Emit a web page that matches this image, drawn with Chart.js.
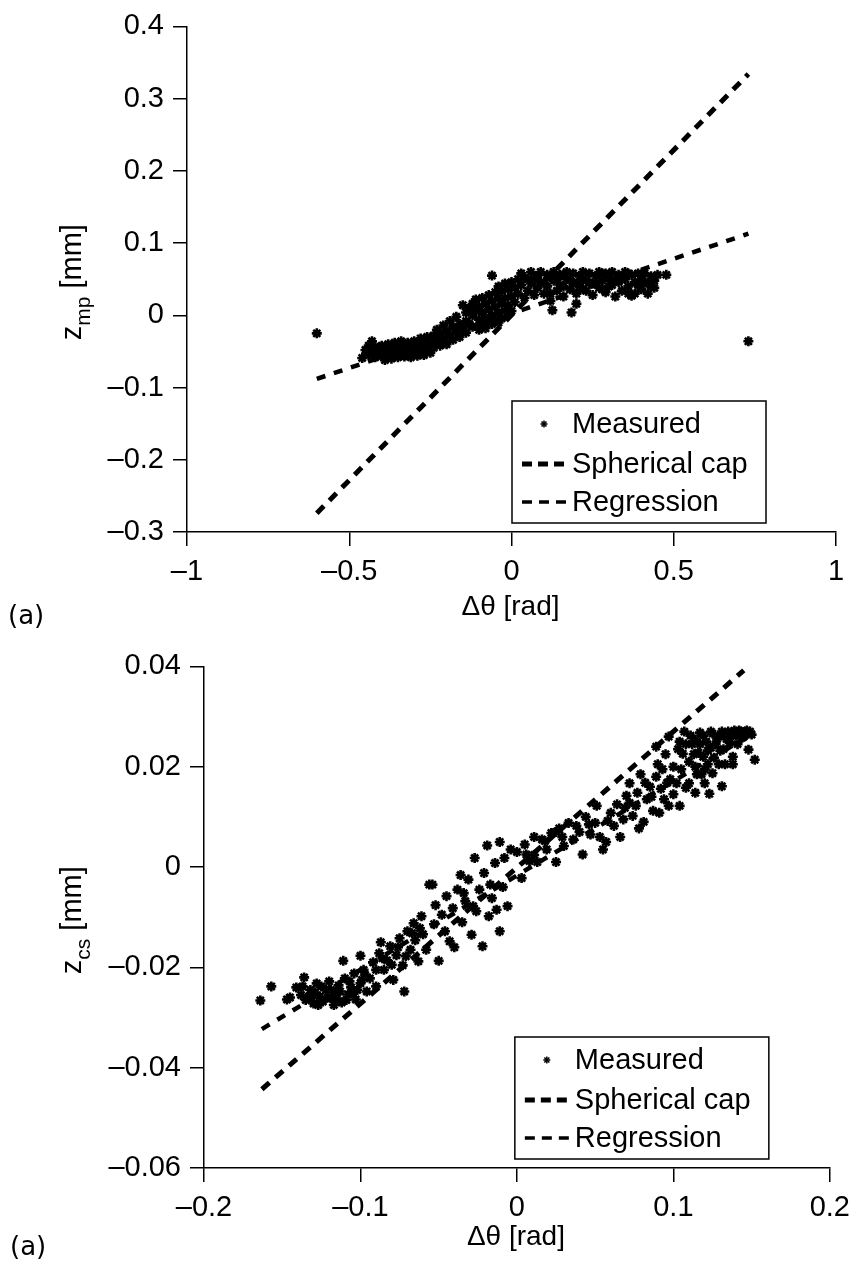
<!DOCTYPE html>
<html>
<head>
<meta charset="utf-8">
<script src="https://cdn.jsdelivr.net/npm/chart.js@4.4.1/dist/chart.umd.min.js"></script>
<style>
  body { margin: 0; background: #fff; width: 859px; height: 1271px; position: relative; overflow: hidden; }
  .panel { position: absolute; left: 0; }
  .tag { position: absolute; font-family: "DejaVu Sans", sans-serif; font-size: 26px; color: #000; }
</style>
</head>
<body>
<div class="panel" style="top:0"><canvas id="chartA" width="859" height="640"></canvas></div>
<div class="panel" style="top:640px"><canvas id="chartB" width="859" height="631"></canvas></div>
<div class="tag" style="left:8px;top:600px">(a)</div>
<div class="tag" style="left:10px;top:1231px">(a)</div>

<script>
// ---- panel 1 : z_mp vs delta theta ----
const xTicksA = [-1, -0.5, 0, 0.5, 1];
const xLabelsA = ["–1", "–0.5", "0", "0.5", "1"];
const yTicksA = [-0.3, -0.2, -0.1, 0, 0.1, 0.2, 0.3, 0.4];
const yLabelsA = ["–0.3", "–0.2", "–0.1", "0", "0.1", "0.2", "0.3", "0.4"];

const measuredA = [
  [-0.60,-0.025],[0.73,-0.036],[-0.43,-0.036],[-0.46,-0.059],[-0.15,0.014],[-0.06,0.055],
  [0.477,0.056],[0.126,0.007],[0.185,0.004],[0.37,0.027],
  [-0.45,-0.048],[-0.44,-0.055],[-0.44,-0.042],[-0.43,-0.05],[-0.42,-0.044],[-0.42,-0.058],
  [-0.41,-0.05],[-0.40,-0.042],[-0.40,-0.056],[-0.39,-0.048],[-0.39,-0.062],[-0.38,-0.04],
  [-0.38,-0.054],[-0.37,-0.046],[-0.37,-0.06],[-0.36,-0.038],[-0.36,-0.052],[-0.35,-0.045],
  [-0.35,-0.058],[-0.34,-0.05],[-0.34,-0.036],[-0.33,-0.044],[-0.33,-0.057],[-0.32,-0.05],
  [-0.32,-0.038],[-0.31,-0.045],[-0.31,-0.058],[-0.30,-0.052],[-0.30,-0.036],[-0.29,-0.044],
  [-0.29,-0.056],[-0.28,-0.05],[-0.28,-0.032],[-0.27,-0.042],[-0.27,-0.055],[-0.26,-0.047],
  [-0.26,-0.03],[-0.25,-0.038],[-0.25,-0.052],
  [-0.445,-0.05],[-0.435,-0.046],[-0.425,-0.052],[-0.415,-0.046],[-0.405,-0.05],[-0.395,-0.054],
  [-0.385,-0.046],[-0.375,-0.052],[-0.365,-0.046],[-0.355,-0.052],[-0.345,-0.042],[-0.335,-0.05],
  [-0.325,-0.045],[-0.315,-0.052],[-0.305,-0.046],[-0.295,-0.05],[-0.285,-0.042],[-0.275,-0.048],
  [-0.265,-0.04],
  [-0.24,-0.045],[-0.24,-0.028],[-0.23,-0.036],[-0.23,-0.02],[-0.22,-0.042],[-0.22,-0.026],
  [-0.21,-0.014],[-0.21,-0.033],[-0.20,-0.022],[-0.20,-0.04],[-0.19,-0.008],[-0.19,-0.028],
  [-0.18,-0.016],[-0.18,-0.034],[-0.17,-0.022],[-0.17,-0.002],[-0.16,-0.012],[-0.16,-0.03],
  [-0.15,-0.018],[-0.14,0.004],[-0.14,-0.008],[-0.14,-0.024],[-0.13,0.01],[-0.13,-0.012],
  [-0.12,0.016],[-0.12,0.0],[-0.12,-0.016],[-0.11,0.022],[-0.11,0.006],[-0.10,0.012],
  [-0.10,-0.006],[-0.09,0.024],[-0.09,0.004],[-0.08,0.016],[-0.08,-0.004],[-0.07,0.028],
  [-0.07,0.008],[-0.06,0.02],[-0.06,0.0],[-0.05,0.032],[-0.05,0.012],[-0.04,0.024],
  [-0.04,0.04],[-0.04,0.004],[-0.03,0.034],[-0.03,0.016],[-0.02,0.044],[-0.02,0.024],
  [-0.02,0.006],[-0.01,0.036],[-0.01,0.014],[0.0,0.046],[0.0,0.026],[0.0,0.006],
  [0.01,0.038],[0.01,0.018],[0.02,0.05],[0.02,0.03],
  [-0.10,-0.02],[-0.09,-0.014],[-0.08,-0.018],[-0.07,-0.01],[-0.06,-0.012],[-0.05,-0.006],
  [-0.04,-0.01],[-0.03,-0.004],
  [0.03,0.058],[0.03,0.042],[0.04,0.024],[0.05,0.05],[0.05,0.034],[0.06,0.06],
  [0.06,0.044],[0.07,0.028],[0.08,0.054],[0.08,0.038],[0.09,0.06],[0.09,0.046],
  [0.10,0.03],[0.11,0.056],[0.11,0.04],[0.12,0.02],[0.13,0.06],[0.13,0.048],
  [0.14,0.034],[0.15,0.056],[0.15,0.042],[0.16,0.026],[0.17,0.06],[0.17,0.05],
  [0.18,0.036],[0.19,0.058],[0.19,0.044],[0.20,0.03],[0.20,0.016],[0.21,0.054],
  [0.21,0.04],[0.22,0.06],[0.23,0.048],[0.23,0.034],[0.24,0.058],[0.25,0.044],
  [0.25,0.028],[0.26,0.054],[0.27,0.06],[0.27,0.038],[0.28,0.048],[0.29,0.058],
  [0.29,0.032],[0.30,0.052],[0.31,0.06],[0.31,0.042],[0.32,0.026],[0.33,0.056],
  [0.33,0.046],[0.34,0.034],[0.35,0.06],[0.35,0.05],[0.36,0.04],[0.37,0.056],
  [0.38,0.046],[0.38,0.03],[0.39,0.058],[0.40,0.05],[0.40,0.036],[0.41,0.058],
  [0.42,0.044],[0.43,0.054],[0.44,0.048],[0.45,0.056],[0.44,0.038],
  [0.04,0.052],[0.07,0.05],[0.10,0.045],[0.12,0.055],[0.14,0.05],[0.16,0.056],
  [0.18,0.05],[0.20,0.044],[0.22,0.05],[0.24,0.045],[0.26,0.044],[0.28,0.058],
  [0.30,0.04],[0.32,0.05],[0.34,0.05],[0.36,0.058],[0.39,0.042],[0.41,0.046],
  [0.43,0.04],[0.12,0.03],[0.16,0.04],[0.22,0.036],[0.28,0.036],[0.36,0.03],[0.42,0.03]
];
const sphericalCapA = [[-0.60,-0.274],[0.73,0.334]];
const regressionA = [[-0.60,-0.088],[0.73,0.113]];

// ---- panel 2 : z_cs vs delta theta ----
const xTicksB = [-0.2, -0.1, 0, 0.1, 0.2];
const xLabelsB = ["–0.2", "–0.1", "0", "0.1", "0.2"];
const yTicksB = [-0.06, -0.04, -0.02, 0, 0.02, 0.04];
const yLabelsB = ["–0.06", "–0.04", "–0.02", "0", "0.02", "0.04"];

const measuredB = [
  [-0.164,-0.0266],[-0.157,-0.0238],[-0.147,-0.0264],[-0.141,-0.024],[-0.136,-0.022],[-0.145,-0.026],
  [-0.138,-0.0255],[-0.135,-0.0265],[-0.132,-0.0245],[-0.13,-0.0272],[-0.128,-0.0232],[-0.126,-0.0258],
  [-0.124,-0.0268],[-0.122,-0.0244],[-0.12,-0.0228],[-0.118,-0.0262],[-0.116,-0.025],[-0.114,-0.0236],
  [-0.112,-0.027],[-0.11,-0.0222],[-0.108,-0.0254],[-0.106,-0.024],[-0.104,-0.0212],[-0.103,-0.0264],
  [-0.1,-0.0232],[-0.098,-0.0205],[-0.096,-0.0248],[-0.111,-0.0187],[-0.1,-0.0177],
  [-0.137,-0.0238],[-0.133,-0.0258],[-0.129,-0.025],[-0.127,-0.0275],[-0.125,-0.0238],[-0.121,-0.026],
  [-0.119,-0.0245],[-0.117,-0.0275],[-0.115,-0.0262],[-0.113,-0.0248],[-0.109,-0.0265],[-0.107,-0.0228],
  [-0.105,-0.0252],[-0.102,-0.0245],[-0.099,-0.0225],[-0.097,-0.0215],
  [-0.094,-0.0222],[-0.092,-0.019],[-0.09,-0.0238],[-0.088,-0.0172],[-0.087,-0.015],[-0.085,-0.0205],
  [-0.083,-0.0186],[-0.081,-0.0158],[-0.079,-0.0225],[-0.077,-0.0176],[-0.075,-0.0142],[-0.073,-0.0196],
  [-0.072,-0.0248],[-0.07,-0.0128],[-0.068,-0.0165],[-0.066,-0.0112],[-0.065,-0.0146],[-0.063,-0.0188],
  [-0.061,-0.0098],[-0.06,-0.0134],
  [-0.09,-0.0205],[-0.086,-0.0182],[-0.08,-0.0195],[-0.076,-0.016],[-0.071,-0.0178],[-0.067,-0.0132],
  [-0.062,-0.0122],
  [-0.058,-0.0165],[-0.056,-0.0035],[-0.054,-0.0035],[-0.053,-0.0114],[-0.052,-0.0076],[-0.05,-0.0187],
  [-0.048,-0.0095],[-0.046,-0.0128],[-0.045,-0.0058],[-0.043,-0.0148],[-0.041,-0.0082],[-0.04,-0.016],
  [-0.038,-0.0045],[-0.036,-0.0016],[-0.035,-0.011],[-0.033,-0.0068],[-0.031,-0.0025],[-0.029,-0.0135],
  [-0.027,0.0018],[-0.026,-0.0088],[-0.024,-0.0045],[-0.022,-0.0158],[-0.021,-0.0012],[-0.019,0.0043],
  [-0.018,-0.0098],[-0.016,-0.0062],[-0.014,0.0008],[-0.013,-0.0085],[-0.011,0.005],[-0.011,-0.0128],
  [-0.009,-0.004],[-0.008,0.0018],[-0.006,-0.0078],[-0.004,0.0035],
  [-0.034,-0.0052],[-0.028,-0.0078],[-0.017,-0.0035],
  [0.0,0.003],[0.003,-0.0022],[0.005,0.0045],[0.008,0.0012],[0.011,0.006],[0.011,0.0024],
  [0.013,0.001],[0.016,0.0055],[0.019,0.0035],[0.022,0.0068],[0.025,0.001],[0.025,0.007],
  [0.027,0.0077],[0.03,0.0042],[0.033,0.0088],[0.036,0.0055],[0.04,0.007],[0.042,0.0025],
  [0.044,0.01],[0.047,0.0065],[0.05,0.0088],[0.051,0.0122],[0.053,0.006],[0.055,0.0035],
  [0.057,0.005],[0.06,0.0108],[0.062,0.0082],
  [0.006,0.0025],[0.018,0.0052],[0.029,0.006],[0.038,0.0082],[0.046,0.0085],[0.058,0.0092],
  [0.064,0.0125],[0.066,0.006],[0.068,0.0095],[0.07,0.0142],[0.072,0.0167],[0.072,0.0128],
  [0.074,0.0102],[0.076,0.0122],[0.078,0.0077],[0.079,0.0185],[0.081,0.009],[0.083,0.0135],
  [0.085,0.016],[0.087,0.0112],[0.089,0.018],[0.089,0.024],[0.09,0.0205],[0.091,0.0108],
  [0.092,0.0156],[0.094,0.0135],[0.095,0.0225],[0.097,0.026],[0.097,0.0122],[0.098,0.0175],
  [0.1,0.02],[0.1,0.0145],
  [0.069,0.0118],[0.077,0.0148],[0.082,0.0168],[0.086,0.014],[0.093,0.0195],[0.096,0.0168],
  [0.102,0.0167],[0.103,0.0235],[0.104,0.0122],[0.105,0.0195],[0.106,0.0226],[0.107,0.027],
  [0.108,0.0158],[0.11,0.0167],[0.11,0.021],[0.112,0.0245],[0.114,0.0254],[0.114,0.02],
  [0.114,0.0148],[0.116,0.0228],[0.117,0.0268],[0.118,0.0185],[0.119,0.022],[0.12,0.0167],
  [0.121,0.025],[0.122,0.0205],[0.123,0.0146],[0.124,0.0238],[0.125,0.0266],[0.125,0.0187],
  [0.126,0.0218],[0.128,0.0255],[0.13,0.0232],[0.131,0.0161],[0.131,0.027],[0.133,0.0205],
  [0.135,0.027],[0.136,0.0248],[0.138,0.022],[0.138,0.0205],[0.14,0.0262],[0.142,0.0272],
  [0.144,0.0258],[0.146,0.027],[0.148,0.0234],[0.15,0.0264],[0.152,0.0214],
  [0.104,0.025],[0.108,0.0245],[0.111,0.0262],[0.113,0.0225],[0.115,0.0185],[0.117,0.0245],
  [0.119,0.0262],[0.12,0.0195],[0.122,0.0232],[0.124,0.027],[0.127,0.0245],[0.129,0.0205],
  [0.13,0.0262],[0.132,0.0235],[0.134,0.0255],[0.137,0.0262],[0.139,0.0272],[0.141,0.0245],
  [0.143,0.027],[0.145,0.026],[0.147,0.0272],[0.149,0.027]
];
const sphericalCapB = [[-0.163,-0.0443],[0.145,0.0392]];
const regressionB = [[-0.163,-0.0323],[0.15,0.0265]];

const seriesNames = ["Measured", "Spherical cap", "Regression"];

const FONT = '"Liberation Sans", Arial, Helvetica, sans-serif';

// titles + legend box drawn on the canvas
const decor = {
  id: "decor",
  afterDraw(chart, args, opts) {
    const ctx = chart.ctx;
    const ca = chart.chartArea;
    ctx.save();
    ctx.fillStyle = "#000";
    ctx.strokeStyle = "#000";

    // x title
    ctx.font = "28px " + FONT;
    ctx.textAlign = "center";
    ctx.textBaseline = "middle";
    ctx.fillText("Δθ [rad]", (ca.left + ca.right) / 2 - 1, ca.bottom + opts.xTitleGap);

    // y title with subscript
    ctx.save();
    ctx.translate(opts.yTitleX, (ca.top + ca.bottom) / 2 + 3);
    ctx.rotate(-Math.PI / 2);
    ctx.textAlign = "left";
    ctx.textBaseline = "alphabetic";
    const big = "29px " + FONT, small = "21px " + FONT;
    ctx.font = big;
    const wz = ctx.measureText("z").width;
    const wr = ctx.measureText(" [mm]").width;
    ctx.font = small;
    const ws = ctx.measureText(opts.sub).width;
    let cx = -(wz + ws + wr) / 2;
    ctx.font = big; ctx.fillText("z", cx, 0); cx += wz;
    ctx.font = small; ctx.fillText(opts.sub, cx, 9); cx += ws;
    ctx.font = big; ctx.fillText(" [mm]", cx, 0);
    ctx.restore();

    // legend
    const bw = 254, bh = 122;
    const bx = ca.right - opts.legendRight - bw;
    const by = ca.bottom - 9 - bh;
    ctx.fillStyle = "#fff";
    ctx.fillRect(bx, by, bw, bh);
    ctx.lineWidth = 1.5;
    ctx.setLineDash([]);
    ctx.strokeRect(bx, by, bw, bh);
    ctx.fillStyle = "#000";
    const rows = [by + 23, by + 63, by + 101];
    // measured marker
    const mx = bx + 32, my = rows[0];
    ctx.lineWidth = 1.5;
    for (let k = 0; k < 4; k++) {
      const a = k * Math.PI / 4;
      ctx.beginPath();
      ctx.moveTo(mx - 3.5 * Math.cos(a), my - 3.5 * Math.sin(a));
      ctx.lineTo(mx + 3.5 * Math.cos(a), my + 3.5 * Math.sin(a));
      ctx.stroke();
    }
    // dashed samples
    const dashes = [[5, [10, 6]], [3.5, [10, 7]]];
    dashes.forEach((d, i) => {
      ctx.lineWidth = d[0];
      ctx.setLineDash(d[1]);
      ctx.beginPath();
      ctx.moveTo(bx + 10, rows[i + 1]);
      ctx.lineTo(bx + 56, rows[i + 1]);
      ctx.stroke();
    });
    ctx.setLineDash([]);
    ctx.font = "29px " + FONT;
    ctx.textAlign = "left";
    ctx.textBaseline = "middle";
    seriesNames.forEach((n, i) => ctx.fillText(n, bx + 60, rows[i] + 1));
    ctx.restore();
  }
};

function makeChart(id, p) {
  const axis = (ticks, labels, min, max, fit) => ({
    type: "linear",
    min: min,
    max: max,
    afterBuildTicks: s => { s.ticks = ticks.map(v => ({ value: v })); },
    afterFit: fit,
    border: { display: true, color: "#000", width: 1.5 },
    grid: { drawOnChartArea: false, color: "#000", lineWidth: 1.5, tickLength: 14 },
    ticks: {
      color: "#000",
      padding: 9,
      font: { family: FONT, size: 29 },
      callback: (v, i) => labels[i]
    }
  });

  return new Chart(document.getElementById(id), {
    type: "scatter",
    data: {
      datasets: [
        {
          label: seriesNames[0],
          data: p.measured,
          pointStyle: "star",
          pointRadius: 5,
          pointBorderWidth: 2.6,
          borderColor: "#000",
          backgroundColor: "#000"
        },
        {
          label: seriesNames[1],
          data: p.cap,
          showLine: true,
          pointRadius: 0,
          borderColor: "#000",
          borderWidth: 5,
          borderDash: [10, 8],
          fill: false
        },
        {
          label: seriesNames[2],
          data: p.reg,
          showLine: true,
          pointRadius: 0,
          borderColor: "#000",
          borderWidth: 4.5,
          borderDash: [9, 9],
          fill: false
        }
      ]
    },
    options: {
      responsive: false,
      animation: false,
      events: [],
      layout: { padding: p.pad },
      plugins: {
        legend: { display: false },
        tooltip: { enabled: false },
        decor: p.decor
      },
      scales: {
        x: axis(p.xt, p.xl, p.xt[0], p.xt[p.xt.length - 1], s => { s.height = p.xh; }),
        y: axis(p.yt, p.yl, p.yt[0], p.yt[p.yt.length - 1], s => { s.width = p.yw; })
      }
    },
    plugins: [decor]
  });
}

makeChart("chartA", {
  measured: measuredA, cap: sphericalCapA, reg: regressionA,
  xt: xTicksA, xl: xLabelsA, yt: yTicksA, yl: yLabelsA,
  xh: 108, yw: 187,
  pad: { top: 23, right: 23, left: 0, bottom: 0 },
  decor: { xTitleGap: 75, yTitleX: 81, sub: "mp", legendRight: 70 }
});

makeChart("chartB", {
  measured: measuredB, cap: sphericalCapB, reg: regressionB,
  xt: xTicksB, xl: xLabelsB, yt: yTicksB, yl: yLabelsB,
  xh: 103, yw: 204,
  pad: { top: 20, right: 24, left: 0, bottom: 0 },
  decor: { xTitleGap: 69, yTitleX: 81, sub: "cs", legendRight: 61 }
});
</script>
</body>
</html>
